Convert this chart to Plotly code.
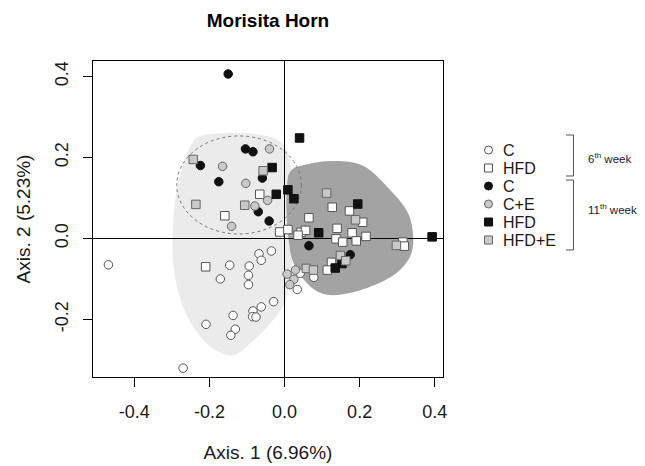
import plotly.graph_objects as go

# ---------------- data (PCoA coordinates) ----------------
c6_x = [-0.469, -0.146, -0.171, -0.094, -0.096, -0.096, -0.068, -0.062, -0.035, -0.029,
        -0.062, -0.084, -0.085, -0.076, -0.137, -0.209, -0.131, -0.143, -0.270, 0.042, 0.034, 0.078]
c6_y = [-0.065, -0.066, -0.100, -0.068, -0.091, -0.114, -0.038, -0.054, -0.031, -0.156,
        -0.169, -0.179, -0.193, -0.194, -0.190, -0.212, -0.224, -0.239, -0.320, -0.086, -0.126, -0.096]

hfd6_x = [-0.066, -0.159, -0.210, -0.013, 0.009, 0.127, 0.173, 0.208, 0.065, 0.140, 0.180,
          0.217, 0.044, 0.056, 0.036, 0.137, 0.155, 0.191, 0.315, 0.319, 0.125, 0.114]
hfd6_y = [0.109, 0.056, -0.070, 0.016, 0.022, 0.077, 0.068, 0.040, 0.051, 0.025, 0.014,
          0.005, 0.015, 0.020, 0.008, -0.001, -0.009, -0.006, -0.009, -0.019, -0.059, -0.078]

c11_x = [-0.150, -0.104, -0.084, -0.224, -0.059, -0.175, -0.070, -0.041, 0.065, 0.175]
c11_y = [0.406, 0.221, 0.214, 0.180, 0.149, 0.140, 0.066, 0.043, -0.018, -0.040]

ce11_x = [-0.040, -0.165, -0.103, -0.045, -0.079, -0.141, 0.007, 0.029, 0.025, 0.014]
ce11_y = [0.221, 0.178, 0.136, 0.094, 0.080, 0.030, -0.088, -0.078, -0.101, -0.114]

hfd11_x = [-0.033, -0.022, 0.009, 0.025, 0.040, 0.195, 0.091, 0.393, 0.153, 0.135]
hfd11_y = [0.175, 0.109, 0.120, 0.098, 0.248, 0.085, 0.014, 0.004, -0.062, -0.073]

hfde11_x = [-0.243, -0.057, -0.236, -0.106, 0.112, 0.189, 0.298, 0.149, 0.163, 0.058, 0.077]
hfde11_y = [0.195, 0.167, 0.084, 0.082, 0.112, 0.046, -0.017, -0.042, -0.055, -0.074, -0.078]

# group outlines (data units)
light_x = [-0.223, -0.143, -0.058, -0.011, 0.013, 0.021, 0.021, 0.019, 0.003, -0.037, -0.090,
           -0.135, -0.183, -0.223, -0.258, -0.284, -0.297, -0.297, -0.287, -0.268, -0.250]
light_y = [0.253, 0.260, 0.255, 0.238, 0.198, 0.119, 0.020, -0.066, -0.152, -0.209, -0.258,
           -0.288, -0.276, -0.244, -0.194, -0.128, -0.054, 0.033, 0.119, 0.186, 0.228]
dark_x = [0.008, 0.019, 0.042, 0.122, 0.210, 0.282, 0.329, 0.343, 0.329, 0.282, 0.202,
          0.130, 0.082, 0.042, 0.021, 0.011, 0.005]
dark_y = [0.144, 0.169, 0.179, 0.191, 0.179, 0.119, 0.062, -0.004, -0.054, -0.096, -0.128,
          -0.140, -0.128, -0.091, -0.054, -0.004, 0.070]
ellipse_center = (-0.121, 0.132)
ellipse_radius = (0.166, 0.121)

x_ticks = [-0.4, -0.2, 0.0, 0.2, 0.4]
x_ticklabels = ["-0.4", "-0.2", "0.0", "0.2", "0.4"]
y_ticks = [-0.2, 0.0, 0.2, 0.4]
y_ticklabels = ["-0.2", "0.0", "0.2", "0.4"]

legend_labels = ["C", "HFD", "C", "C+E", "HFD", "HFD+E"]

# ---------------- styling ----------------
FONT = "Liberation Sans, Arial, sans-serif"
OFF = 8                      # page body margin of the html page
W, H = 645 - OFF, 466 - OFF  # figure size so that it fills the window
# plot area in window pixels: x 93..443, y 61..377
L, T = 93 - OFF, 61 - OFF
R, B = 645 - 443, 466 - 377
PW, PH = 443 - 93, 377 - 61

def smooth_path(xs, ys):
    n = len(xs)
    p = lambda i: (xs[i % n], ys[i % n])
    d = "M %.4f,%.4f" % p(0)
    for i in range(n):
        p0, p1, p2, p3 = p(i - 1), p(i), p(i + 1), p(i + 2)
        c1 = (p1[0] + (p2[0] - p0[0]) / 6, p1[1] + (p2[1] - p0[1]) / 6)
        c2 = (p2[0] - (p3[0] - p1[0]) / 6, p2[1] - (p3[1] - p1[1]) / 6)
        d += " C %.4f,%.4f %.4f,%.4f %.4f,%.4f" % (c1 + c2 + p2)
    return d + " Z"

series = [
    (c6_x, c6_y, "circle", "white", "#555555", "C (6th week)"),
    (hfd6_x, hfd6_y, "square", "white", "#555555", "HFD (6th week)"),
    (c11_x, c11_y, "circle", "#111111", "#111111", "C (11th week)"),
    (ce11_x, ce11_y, "circle", "#c9c9c9", "#666666", "C+E (11th week)"),
    (hfd11_x, hfd11_y, "square", "#111111", "#111111", "HFD (11th week)"),
    (hfde11_x, hfde11_y, "square", "#c9c9c9", "#666666", "HFD+E (11th week)"),
]

fig = go.Figure()
for xs, ys, sym, fill, edge, name in series:
    fig.add_trace(go.Scatter(
        x=xs, y=ys, mode="markers", name=name, showlegend=False,
        marker=dict(symbol=sym, size=8.5, color=fill, line=dict(color=edge, width=1)),
    ))

shapes = [
    dict(type="path", xref="x", yref="y", layer="below", path=smooth_path(light_x, light_y),
         fillcolor="#ebebeb", line=dict(width=0)),
    dict(type="path", xref="x", yref="y", layer="below", path=smooth_path(dark_x, dark_y),
         fillcolor="#a3a3a3", line=dict(width=0)),
    dict(type="circle", xref="x", yref="y", layer="below",
         x0=ellipse_center[0] - ellipse_radius[0], x1=ellipse_center[0] + ellipse_radius[0],
         y0=ellipse_center[1] - ellipse_radius[1], y1=ellipse_center[1] + ellipse_radius[1],
         line=dict(color="#777777", width=1, dash="dot")),
]

def px2paper(px, py):
    # window pixel -> paper coordinates
    return (px - 93) / PW, (377 - py) / PH

# legend
annotations = []
leg_rows = [150, 168, 186, 204, 222, 240]
for (xs, ys, sym, fill, edge, name), lab, ry in zip(series, legend_labels, leg_rows):
    ax, ay = px2paper(488.5, ry)
    shapes.append(dict(type="circle" if sym == "circle" else "rect", xref="paper", yref="paper",
                       xsizemode="pixel", ysizemode="pixel", xanchor=ax, yanchor=ay,
                       x0=-4, x1=4, y0=-4, y1=4, fillcolor=fill, line=dict(color=edge, width=1)))
    tx, ty = px2paper(501, ry)
    annotations.append(dict(text=lab, xref="paper", yref="paper", x=tx, y=ty, xanchor="left",
                            yanchor="middle", showarrow=False,
                            font=dict(family=FONT, size=16, color="#1a1a1a")))

def bracket(y_top, y_bot):
    x0, y0 = px2paper(566, y_top)
    x1, y1 = px2paper(573.5, y_bot)
    return dict(type="path", xref="paper", yref="paper",
                path="M %.4f,%.4f L %.4f,%.4f L %.4f,%.4f L %.4f,%.4f" % (x0, y0, x1, y0, x1, y1, x0, y1),
                line=dict(color="#555555", width=1))

shapes.append(bracket(135, 176))
shapes.append(bracket(180, 250))
for txt, ry in [("6<sup>th</sup> week", 158), ("11<sup>th</sup> week", 209)]:
    tx, ty = px2paper(586, ry)
    annotations.append(dict(text=txt, xref="paper", yref="paper", x=tx, y=ty, xanchor="left",
                            yanchor="middle", showarrow=False,
                            font=dict(family=FONT, size=11.5, color="#222222")))

axis_common = dict(showgrid=False, showline=True, mirror=True, linecolor="black", linewidth=1.3,
                   zeroline=True, zerolinecolor="black", zerolinewidth=1.3,
                   ticks="outside", ticklen=9, tickwidth=1.2, tickcolor="black",
                   tickfont=dict(family=FONT, size=18, color="#1a1a1a"), automargin=False)

fig.update_layout(
    width=W, height=H,
    margin=dict(l=L, r=R, t=T, b=B, autoexpand=False),
    paper_bgcolor="white", plot_bgcolor="white",
    title=dict(text="<b>Morisita Horn</b>", x=0.5, xref="paper", xanchor="center",
               y=1 - (20 - OFF) / H, yref="container", yanchor="middle",
               font=dict(family=FONT, size=19, color="black")),
    xaxis=dict(range=[-0.510, 0.422], tickvals=x_ticks, ticktext=x_ticklabels,
               ticklabelstandoff=9,
               title=dict(text="Axis. 1 (6.96%)", standoff=24,
                          font=dict(family=FONT, size=19, color="#1a1a1a")),
               **axis_common),
    yaxis=dict(range=[-0.342, 0.438], tickvals=y_ticks, ticktext=y_ticklabels, tickangle=-90,
               ticklabelstandoff=8,
               title=dict(text="Axis. 2 (5.23%)", standoff=16,
                          font=dict(family=FONT, size=19, color="#1a1a1a")),
               **axis_common),
    shapes=shapes, annotations=annotations,
)

fig.write_html("out.html")
